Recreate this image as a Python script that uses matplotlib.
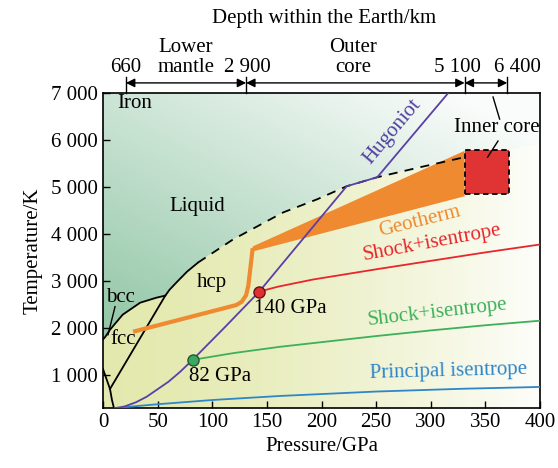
# iron phase diagram with Earth depth scale on top
import numpy as np
import matplotlib
matplotlib.use('Agg')
import matplotlib.pyplot as plt
from matplotlib.patches import Polygon, Rectangle
from matplotlib.ticker import FuncFormatter

plt.rcParams['font.family'] = ['Liberation Serif', 'DejaVu Serif']
plt.rcParams['font.size'] = 15

# melting curve: solid part and dashed part
melt_p = [0, 2, 6.4, 18, 34, 49, 57, 61, 68, 77, 87]
melt_t = [1760, 1810, 1965, 2285, 2540, 2647, 2690, 2818, 2989, 3202, 3394]
melt_dash_p = [87, 119, 165, 196, 223, 251, 290, 331]
melt_dash_t = [3394, 3885, 4461, 4739, 5016, 5208, 5420, 5635]

# other phase boundaries
fcc_hcp_p = [6.4, 57]
fcc_hcp_t = [705, 2690]
bcc_low_p = [0, 0.9, 6.4, 8.2, 10]
bcc_low_t = [1130, 1068, 705, 470, 300]
bcc_lead_p = [4.6, 11]
bcc_lead_t = [1858, 2455]

# Hugoniot
hug_p = [11, 15, 20, 30, 40, 49, 60, 70.5, 82, 112, 143, 162, 223, 251, 316]
hug_t = [300, 310, 335, 420, 540, 684, 860, 1068, 1324, 2030, 2775, 3309, 5016, 5208, 7000]

# geotherm line and band
geo_p = [27.5, 122, 127, 131, 133, 135, 137]
geo_t = [1922, 2490, 2560, 2700, 2900, 3300, 3700]
band_p = [137, 137, 331, 331]
band_t = [3629, 3736, 5770, 4803]

# inner core box
core_p = [331, 372]
core_t = [4845, 5785]

# shock + isentrope (140 GPa, red) and (82 GPa, green), principal isentrope
red_p = [143, 160, 192, 250, 300, 350, 400]
red_t = [2775, 2880, 3032, 3250, 3430, 3610, 3778]
green_p = [82, 120, 162, 250, 300, 350, 400]
green_t = [1324, 1470, 1602, 1830, 1950, 2060, 2157]
blue_p = [11, 50, 100, 162, 250, 330, 400]
blue_t = [300, 380, 470, 556, 650, 710, 748]

# depth scale on top
depth_p = [21, 131, 331, 370]
depth_labels = ['660', '2 900', '5 100', '6 400']
depth_label_p = [21, 132, 324, 379]

fig = plt.figure(figsize=(5.58, 4.68), dpi=100)
ax = fig.add_axes([0.1846, 0.1282, 0.7832, 0.6731])
ax.set_xlim(0, 400)
ax.set_ylim(300, 7000)

# background gradients
P, T = np.meshgrid(np.linspace(0, 400, 300), np.linspace(300, 7000, 300))
green = np.array([120, 185, 145]) / 255.0
w = np.clip(0.814 - 0.00104 * P - 8.5e-5 * (T - 1800), 0.03, 1)[..., None]
img_liq = 1 - w * (1 - green)
yellow = np.array([226, 232, 170]) / 255.0
w2 = (0.9 * (1 - (P / 400) ** 1.5) + 0.05)[..., None]
img_sol = 1 - w2 * (1 - yellow)

bp = list(melt_p) + list(melt_dash_p[1:]) + [400]
bt = list(melt_t) + list(melt_dash_t[1:]) + [5900]
liq_poly = Polygon(list(zip(bp, bt)) + [(400, 7000), (0, 7000)], closed=True,
                   transform=ax.transData)
sol_poly = Polygon(list(zip(bp, bt)) + [(400, 300), (0, 300)], closed=True,
                   transform=ax.transData)
im1 = ax.imshow(img_liq, extent=[0, 400, 300, 7000], origin='lower', aspect='auto', zorder=0)
im1.set_clip_path(liq_poly)
im2 = ax.imshow(img_sol, extent=[0, 400, 300, 7000], origin='lower', aspect='auto', zorder=0)
im2.set_clip_path(sol_poly)

# phase boundaries
ax.plot(melt_p, melt_t, color='k', lw=1.3, zorder=3)
ax.plot(melt_dash_p, melt_dash_t, color='k', lw=1.3, dashes=(5, 4), zorder=3)
ax.plot(fcc_hcp_p, fcc_hcp_t, color='k', lw=1.3, zorder=3)
ax.plot(bcc_low_p, bcc_low_t, color='k', lw=1.3, zorder=3)
ax.plot(bcc_lead_p, bcc_lead_t, color='k', lw=1.0, zorder=3)

# geotherm
ax.fill(band_p, band_t, color='#f08a30', lw=0, zorder=2)
ax.plot(geo_p, geo_t, color='#f08a30', lw=3, zorder=3, solid_capstyle='butt')

# inner core
ax.add_patch(Rectangle((core_p[0], core_t[0]), core_p[1] - core_p[0], core_t[1] - core_t[0],
                       facecolor='#e03333', edgecolor='k', lw=1.3, ls=(0, (3, 2)), zorder=4))

# isentropes and Hugoniot
ax.plot(blue_p, blue_t, color='#2e86c8', lw=1.3, zorder=3)
ax.plot(green_p, green_t, color='#3db05a', lw=1.3, zorder=3)
ax.plot(red_p, red_t, color='#e8262b', lw=1.3, zorder=3)
ax.plot(hug_p, hug_t, color='#5b3fa6', lw=1.3, zorder=4)
ax.plot(green_p[0], green_t[0], 'o', ms=8, mfc='#3aa860', mec='#1f5a30', mew=1, zorder=5)
ax.plot(red_p[0], red_t[0], 'o', ms=8, mfc='#e03030', mec='#6a1010', mew=1, zorder=5)

# inner core leader lines
ax.plot([357, 363], [6915, 6446], color='k', lw=1.0, zorder=3)
ax.plot([361.5, 352], [5977, 5635], color='k', lw=1.0, zorder=5)

# labels
ax.text(12.8, 6766, 'Iron', ha='left', va='center')
ax.text(86, 4590, 'Liquid', ha='center', va='center')
ax.text(100, 2968, 'hcp', ha='center', va='center')
ax.text(15.6, 2647, 'bcc', ha='center', va='center')
ax.text(18.3, 1751, 'fcc', ha='center', va='center')
ax.text(171, 2413, '140 GPa', ha='center', va='center')
ax.text(107, 962, '82 GPa', ha='center', va='center')
ax.text(360.6, 6275, 'Inner core', ha='center', va='center')
ax.text(264.5, 6168, 'Hugoniot', color='#5040a0', rotation=50, ha='center', va='center')
ax.text(290, 4269, 'Geotherm', color='#f08a30', rotation=14, ha='center', va='center')
ax.text(301, 3821, 'Shock+isentrope', color='#e8262b', rotation=10.5, ha='center', va='center')
ax.text(306, 2327, 'Shock+isentrope', color='#3db05a', rotation=6.5, ha='center', va='center')
ax.text(316, 1068, 'Principal isentrope', color='#2e86c8', rotation=1.5, ha='center', va='center')

# depth scale
tr = ax.get_xaxis_transform()
for p in depth_p:
    ax.plot([p, p], [1.0, 1.051], transform=tr, color='k', lw=1.0, clip_on=False)
for a, b in zip(depth_p[:-1], depth_p[1:]):
    ax.annotate('', xy=(b, 1.032), xytext=(a, 1.032), xycoords=tr, textcoords=tr,
                arrowprops=dict(arrowstyle='<|-|>', color='k', lw=1.0, mutation_scale=13,
                                shrinkA=0, shrinkB=0), annotation_clip=False)
for p, s in zip(depth_label_p, depth_labels):
    ax.text(p, 1.08, s, transform=tr, ha='center', va='center', clip_on=False)
ax.text(76, 1.08, 'mantle', transform=tr, ha='center', va='center')
ax.text(76, 1.146, 'Lower', transform=tr, ha='center', va='center')
ax.text(229, 1.08, 'core', transform=tr, ha='center', va='center')
ax.text(229, 1.146, 'Outer', transform=tr, ha='center', va='center')
ax.text(202, 1.235, 'Depth within the Earth/km', transform=tr, ha='center', va='center')

# axes
ax.set_xticks(np.arange(0, 401, 50))
ax.set_yticks(np.arange(1000, 7001, 1000))
ax.yaxis.set_major_formatter(FuncFormatter(lambda v, _: f'{int(v):,}'.replace(',', ' ')))
ax.tick_params(direction='in', length=5, width=1, labelsize=15)
for sp in ax.spines.values():
    sp.set_linewidth(1.2)
ax.set_xlabel('Pressure/GPa', fontsize=15, labelpad=4)
ax.set_ylabel('Temperature/K', fontsize=15, labelpad=6)

fig.savefig('out.png', dpi=100)
